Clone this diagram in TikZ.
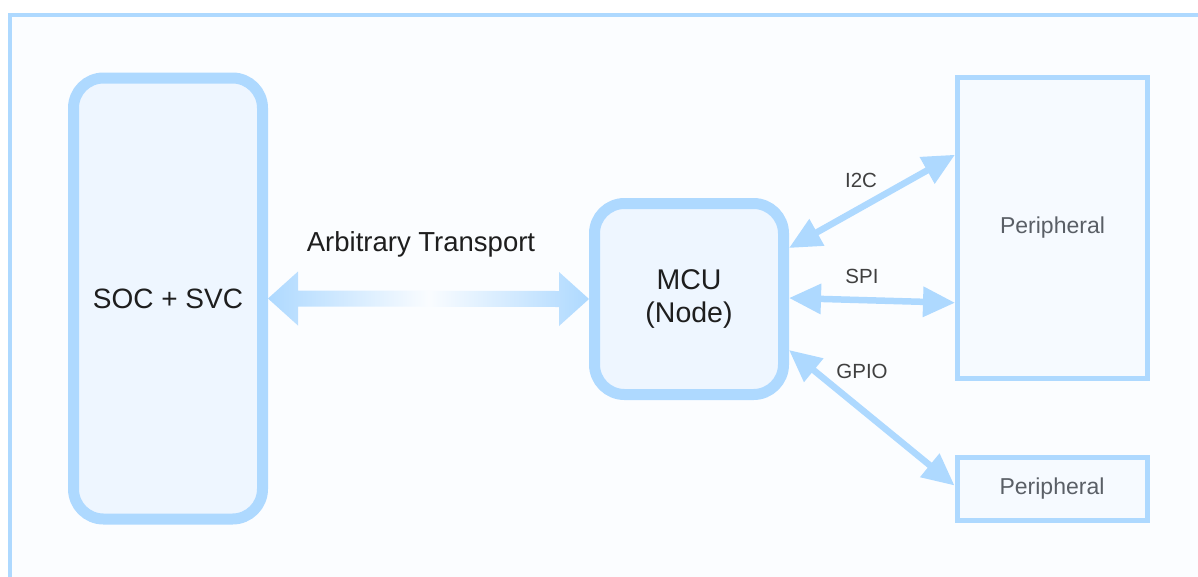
\documentclass[tikz,border=0pt]{standalone}
\usepackage{fontspec}
\setmainfont{Liberation Sans}
\usetikzlibrary{arrows.meta,calc}
\definecolor{bblue}{HTML}{AED9FF}
\definecolor{boxfill}{HTML}{EEF6FF}
\definecolor{perfill}{HTML}{F6FAFF}
\definecolor{framefill}{HTML}{FBFDFF}
\definecolor{txtdark}{HTML}{1E1E1E}
\definecolor{txtgray}{HTML}{5A5F66}
\tikzset{
  mainbox/.style={draw=bblue, fill=boxfill, line width=11pt, rounded corners=30pt,
    text=txtdark, align=center, inner sep=0pt},
  perbox/.style={draw=bblue, fill=perfill, line width=5pt, text=txtgray,
    font=\fontsize{23}{27}\selectfont, inner sep=0pt},
  link/.style={draw=bblue, line width=6.5pt,
    {Triangle[length=32pt,width=29pt]}-{Triangle[length=32pt,width=29pt]}},
  lbl/.style={text=txtdark!85, font=\fontsize{20.5}{24}\selectfont, inner sep=0pt},
}
\begin{document}
\begin{tikzpicture}[x=1pt,y=-1pt]
\useasboundingbox (0,0) rectangle (1198,576);
\draw[bblue, fill=framefill, line width=4pt] (10,15) rectangle (1210,590);

\node[mainbox, minimum width=189pt, minimum height=441pt,
  font=\fontsize{28}{32}\selectfont] (soc) at (168,298.5) {SOC + SVC};
\node[mainbox, minimum width=189pt, minimum height=191pt,
  font=\fontsize{28.5}{33}\selectfont] (mcu) at (689,299) {MCU\\(Node)};
\node[perbox, minimum width=190pt, minimum height=300.5pt] (p1) at (1052.5,227.75) {Peripheral};
\node[perbox, minimum width=190pt, minimum height=63pt] (p2) at (1052,488.5) {Peripheral};

% transport arrow
\coordinate (tl) at (soc.east);
\coordinate (tr) at (mcu.west);
\shade[left color=bblue, right color=bblue, middle color=white!70!boxfill]
  (tl) -- ($(tl)+(30,-27)$) -- ($(tl)+(30,-8)$) -- ($(tr)+(-30,-8)$) -- ($(tr)+(-30,-27)$)
  -- (tr) -- ($(tr)+(-30,27)$) -- ($(tr)+(-30,8)$) -- ($(tl)+(30,8)$) -- ($(tl)+(30,27)$) -- cycle;
\node[text=txtdark, font=\fontsize{27.5}{32}\selectfont, inner sep=0pt] (tlab) at (421,244) {Arbitrary Transport};

\draw[link] ([yshift=51pt]mcu.east) -- ([yshift=73pt]p1.west);
\draw[link] ([yshift=1pt]mcu.east) -- ([yshift=-75pt]p1.west);
\draw[link] ([yshift=-51pt]mcu.east) -- ([yshift=3pt]p2.west);

\node[lbl] (li2c) at (861,180) {I2C};
\node[lbl] (lspi) at (862,276) {SPI};
\node[lbl] (lgpio) at (862,371) {GPIO};
\end{tikzpicture}
\end{document}
